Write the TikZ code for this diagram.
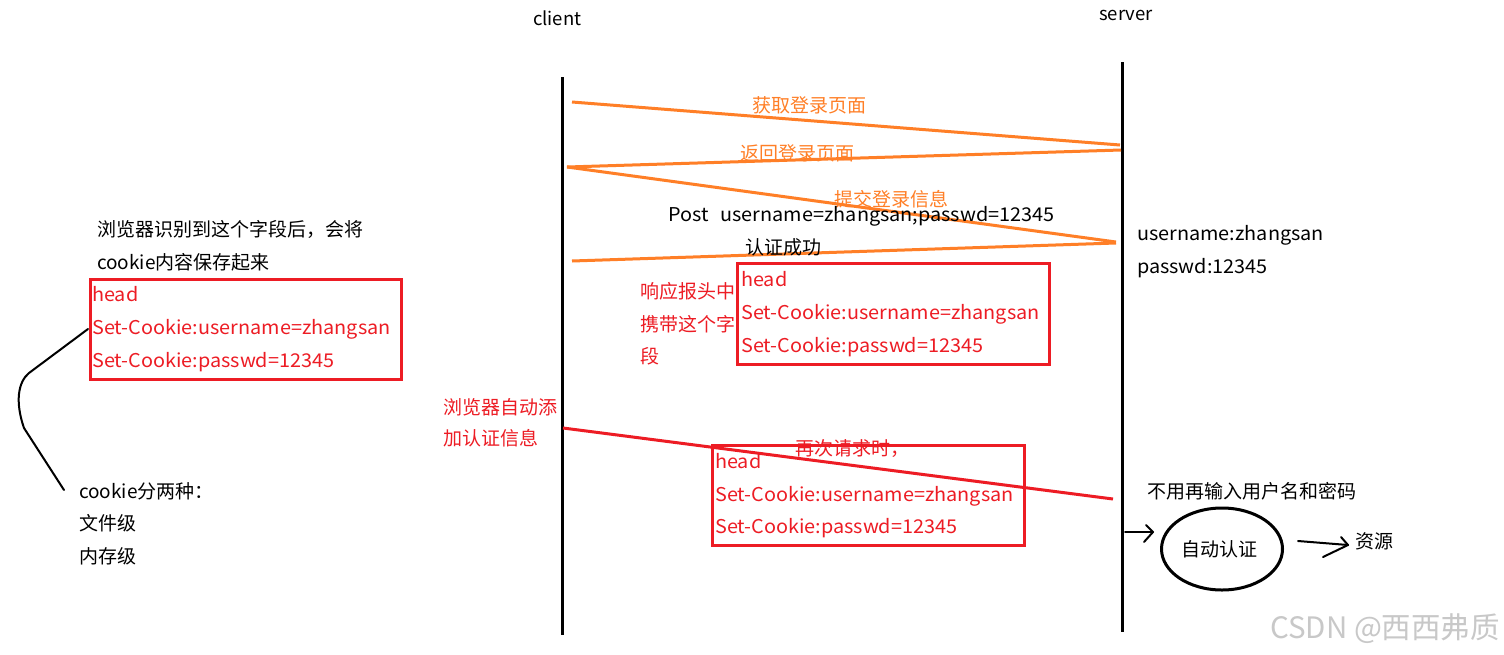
\documentclass[tikz,border=0pt]{standalone}
\usepackage{fontspec}
\setmainfont{Noto Sans CJK SC}
\newfontfamily\widefont[FakeStretch=1.045]{Noto Sans CJK SC}
\usetikzlibrary{shapes.geometric}
\definecolor{porange}{HTML}{FF7F27}
\definecolor{pred}{HTML}{ED1C24}
\definecolor{wmgray}{HTML}{C8C8C8}
\begin{document}
\begin{tikzpicture}[x=1pt,y=-1pt,
  txt/.style={font=\fontsize{19}{22}\selectfont, inner sep=0pt, anchor=base west},
  wtxt/.style={txt, font=\widefont\fontsize{19}{22}\selectfont},
  otxt/.style={txt, text=porange},
  rtxt/.style={txt, text=pred},
  rwtxt/.style={wtxt, text=pred},
  lifeline/.style={line width=3pt, black},
  oline/.style={line width=3pt, porange},
  rline/.style={line width=3pt, pred},
  redbox/.style={draw=pred, line width=3pt, inner sep=0pt, rectangle},
  hand/.style={line width=2pt, black, line cap=round, line join=round}]
\useasboundingbox[fill=white] (0,0) rectangle (1504,654);

% lifelines
\node[txt, font=\fontsize{18.5}{22}\selectfont] (client) at (533,25) {client};
\node[txt, font=\fontsize{18.5}{22}\selectfont] (server) at (1099,20) {server};
\coordinate (ctop) at (562,77);
\coordinate (cbot) at (562,635);
\coordinate (stop) at (1122,62);
\coordinate (sbot) at (1122,632);
\draw[lifeline] (ctop) -- (cbot);
\draw[lifeline] (stop) -- (sbot);

% orange messages
\coordinate (m1a) at (572,102);
\coordinate (m1b) at (1120,145);
\coordinate (m2a) at (1121,150);
\coordinate (m2b) at (567,167);
\coordinate (m3b) at (1116,242);
\coordinate (m4a) at (1116,243);
\coordinate (m4b) at (572,261);
\draw[oline] (m1a) -- (m1b);
\draw[oline] (m2a) -- (m2b);
\draw[oline] (m2b) -- (m3b);
\draw[oline] (m4a) -- (m4b);
\node[otxt] (l1) at (752,112) {获取登录页面};
\node[otxt] (l2) at (740,160) {返回登录页面};
\node[otxt] (l3) at (834,206) {提交登录信息};
\node[wtxt] (post) at (668,221) {Post\hspace{12pt}username=zhangsan;passwd=12345};
\node[txt] (ok) at (745,254) {认证成功};

% response header box
\node[redbox, minimum width=312pt, minimum height=101pt] (box1) at (893,313.5) {};
\node[rwtxt] (b1a) at (741,286) {head};
\node[rwtxt] (b1b) at (741,319) {Set-Cookie:username=zhangsan};
\node[rwtxt] (b1c) at (741,352) {Set-Cookie:passwd=12345};
\node[rtxt] (r1) at (640,298) {响应报头中};
\node[rtxt] (r2) at (640,331) {携带这个字};
\node[rtxt] (r3) at (640,363) {段};

% server side info
\node[wtxt] (su) at (1137,240) {username:zhangsan};
\node[wtxt] (sp) at (1137,273) {passwd:12345};

% left box
\node[txt] (n1) at (97,236) {浏览器识别到这个字段后，会将};
\node[txt] (n2) at (97,269) {cookie内容保存起来};
\node[redbox, minimum width=311pt, minimum height=100pt] (box2) at (245.5,329) {};
\node[rwtxt] (b2a) at (92,301) {head};
\node[rwtxt] (b2b) at (92,334) {Set-Cookie:username=zhangsan};
\node[rwtxt] (b2c) at (92,367) {Set-Cookie:passwd=12345};
\node[txt] (k1) at (79,498) {cookie分两种：};
\node[txt] (k2) at (79,530) {文件级};
\node[txt] (k3) at (79,563) {内存级};
\coordinate (cvs) at (88,329);
\coordinate (cve) at (64,490);
\draw[hand] (cvs) -- (29,373) .. controls (18,382) and (15,402) .. (24,428) -- (cve);

% second request
\node[rtxt] (a1) at (443,414) {浏览器自动添};
\node[rtxt] (a2) at (443,445) {加认证信息};
\coordinate (rqa) at (563,428);
\coordinate (rqb) at (1113,499);
\draw[rline] (rqa) -- (rqb);
\node[redbox, minimum width=312pt, minimum height=100pt] (box3) at (868,495) {};
\node[rtxt] (req) at (795,455) {再次请求时，};
\node[rwtxt] (b3a) at (715,468) {head};
\node[rwtxt] (b3b) at (715,501) {Set-Cookie:username=zhangsan};
\node[rwtxt] (b3c) at (715,533) {Set-Cookie:passwd=12345};

% auto auth
\node[txt] (noinput) at (1147,498) {不用再输入用户名和密码};
\node[ellipse, draw, line width=3pt, minimum width=121pt, minimum height=82pt, inner sep=0pt,
      font=\fontsize{19}{22}\selectfont] (auth) at (1222,549) {\hspace*{-6pt}自动认证};
\node[txt] (res) at (1355,548) {资源};
\coordinate (ar1a) at (1125,532);
\coordinate (ar1b) at (1153,532);
\draw[hand] (ar1a) -- (ar1b);
\draw[hand] (1146,525) -- (ar1b) -- (1144,542);
\coordinate (ar2a) at (1298,541);
\coordinate (ar2b) at (1348,545);
\draw[hand] (ar2a) -- (ar2b);
\draw[hand] (1341,537) -- (ar2b) -- (1323,557);

% watermark
\node[txt, font=\fontsize{29.5}{32}\selectfont, text=wmgray] (wm) at (1270,638) {CSDN @西西弗质};
\end{tikzpicture}
\end{document}
